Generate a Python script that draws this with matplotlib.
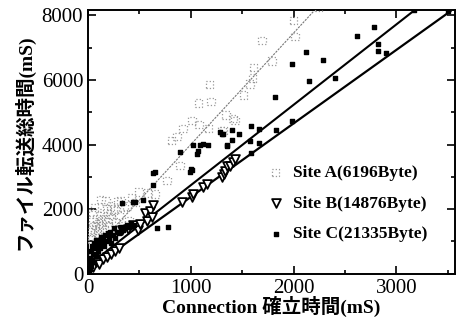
import matplotlib
matplotlib.use("Agg")
import matplotlib.pyplot as plt
from matplotlib.ticker import MultipleLocator

plt.rcParams['font.family'] = ['Liberation Serif', 'Noto Sans CJK JP']

# Site A (6196Byte)
a_x = [20, 30, 35, 40, 45, 50, 60, 65, 70, 80, 90, 95, 100, 110, 120, 125, 130, 140, 145,
       150, 160, 170, 175, 180, 190, 200, 210, 220, 230, 240, 250, 263, 270, 292, 300, 310,
       320, 340, 350, 380, 400, 420, 460, 497, 584, 652, 770, 815, 865, 895, 925, 1010,
       1072, 1080, 1170, 1180, 1195, 1305, 1318, 1344, 1412, 1430, 1510, 1577, 1600,
       1608, 1694, 1790, 1997, 2015, 2240]
a_y = [1300, 1450, 1050, 1150, 1900, 1600, 1350, 2050, 1500, 1700, 1250, 1100, 1550, 1400,
       1800, 2300, 1650, 1500, 1150, 1900, 1350, 1700, 2250, 2000, 1600, 1450, 1850, 2100,
       1700, 1200, 1950, 2000, 1600, 2220, 1800, 1400, 2250, 1500, 2050, 2100, 1650, 2350,
       2200, 2530, 2500, 2470, 2880, 4130, 4250, 3350, 4500, 4750, 5280, 4620, 4500, 5850,
       5340, 4440, 4440, 4910, 4810, 4750, 5530, 5870, 6060, 6375, 7210, 6590, 7840, 7340,
       8250]

# Site B (14876Byte)
b_x = [10, 19, 50, 80, 110, 150, 185, 220, 260, 300, 331, 390, 438, 487, 506, 555, 574,
       604, 623, 633, 915, 1012, 1022, 1120, 1158, 1305, 1324, 1334, 1353, 1383, 1412, 1431]
b_y = [120, 264, 200, 350, 300, 450, 512, 600, 700, 800, 1350, 1380, 1506, 1350, 1530,
       1880, 1630, 1940, 1755, 2127, 2220, 2376, 2470, 2690, 2780, 3000, 3090, 3190, 3340,
       3340, 3470, 3560]

# Site C (21335Byte)
c_x = [5, 10, 15, 20, 25, 30, 35, 40, 50, 55, 60, 70, 75, 80, 90, 100, 110, 120, 130, 140,
       150, 160, 170, 180, 190, 200, 210, 220, 240, 250, 260, 280, 300, 320, 340, 360, 380,
       400, 420, 450, 331, 438, 458, 536, 633, 633, 652, 672, 779, 895, 993, 1003, 1012,
       1022, 1061, 1071, 1090, 1120, 1168, 1285, 1305, 1318, 1353, 1353, 1400, 1400, 1470,
       1587, 1577, 1587, 1665, 1665, 1830, 1986, 1821, 2152, 2405, 1986, 2288, 2123, 2824,
       2824, 2900, 2620, 2785, 3174, 3505]
c_y = [50, 300, 150, 500, 250, 700, 400, 850, 600, 950, 350, 800, 1050, 550, 900, 700, 1000,
       800, 1150, 950, 1050, 850, 1200, 1000, 1250, 1100, 1300, 950, 1200, 1400, 1100, 1300,
       1250, 1450, 1350, 1400, 1500, 1450, 1550, 1500, 2190, 2220, 2210, 2280, 2750, 3120,
       3150, 1413, 1444, 3770, 3150, 3250, 3210, 3970, 3720, 3810, 3970, 4030, 3970, 4375,
       4310, 4340, 3940, 3970, 4440, 4130, 4310, 4560, 4100, 3750, 4470, 4060, 4440, 4720,
       5460, 5960, 6060, 6500, 6620, 6870, 7100, 6910, 6840, 7350, 7625, 8150, 8120]

# fitted lines (end points)
fit_a_x = [0, 2240]
fit_a_y = [550, 8280]
fit_b_x = [0, 3525]
fit_b_y = [100, 8125]
fit_c_x = [0, 3174]
fit_c_y = [250, 8152]

fig = plt.figure(figsize=(4.57, 3.27), dpi=100)
ax = fig.add_axes([0.1926, 0.163, 0.8030, 0.805])

ax.plot(fit_a_x, fit_a_y, color='#777777', lw=0.8, ls=(0, (2, 1)))
ax.plot(fit_c_x, fit_c_y, color='black', lw=1.5)
ax.plot(fit_b_x, fit_b_y, color='black', lw=1.6)

ax.scatter(a_x, a_y, marker='s', s=28, facecolors='none', edgecolors='#999999',
           linewidths=0.9, linestyle=':', label='Site A(6196Byte)', zorder=3)
ax.scatter(b_x, b_y, marker='v', s=40, facecolors='white', edgecolors='black',
           linewidths=1.3, label='Site B(14876Byte)', zorder=4)
ax.scatter(c_x, c_y, marker='s', s=12, color='black', label='Site C(21335Byte)', zorder=5)

ax.set_xlim(0, 3570)
ax.set_ylim(0, 8150)
ax.xaxis.set_major_locator(MultipleLocator(1000))
ax.xaxis.set_minor_locator(MultipleLocator(500))
ax.yaxis.set_major_locator(MultipleLocator(2000))
ax.yaxis.set_minor_locator(MultipleLocator(1000))
ax.tick_params(which='both', direction='in', top=True, right=True, labelsize=15, width=1.2)
ax.tick_params(which='major', length=6)
ax.tick_params(which='minor', length=3)
for s in ax.spines.values():
    s.set_linewidth(1.4)

ax.set_xlabel('Connection 確立時間(mS)', fontsize=14, fontweight='bold', labelpad=-1)
ax.set_ylabel('ファイル転送総時間(mS)', fontsize=14, fontweight='bold', labelpad=5)

ax.legend(loc='upper left', bbox_to_anchor=(0.459, 0.447), frameon=False,
          prop={'family': 'Liberation Serif', 'weight': 'bold', 'size': 12.5},
          handletextpad=0.4, labelspacing=0.84, borderpad=0, handlelength=1.2)

fig.savefig('out.png', dpi=100)
